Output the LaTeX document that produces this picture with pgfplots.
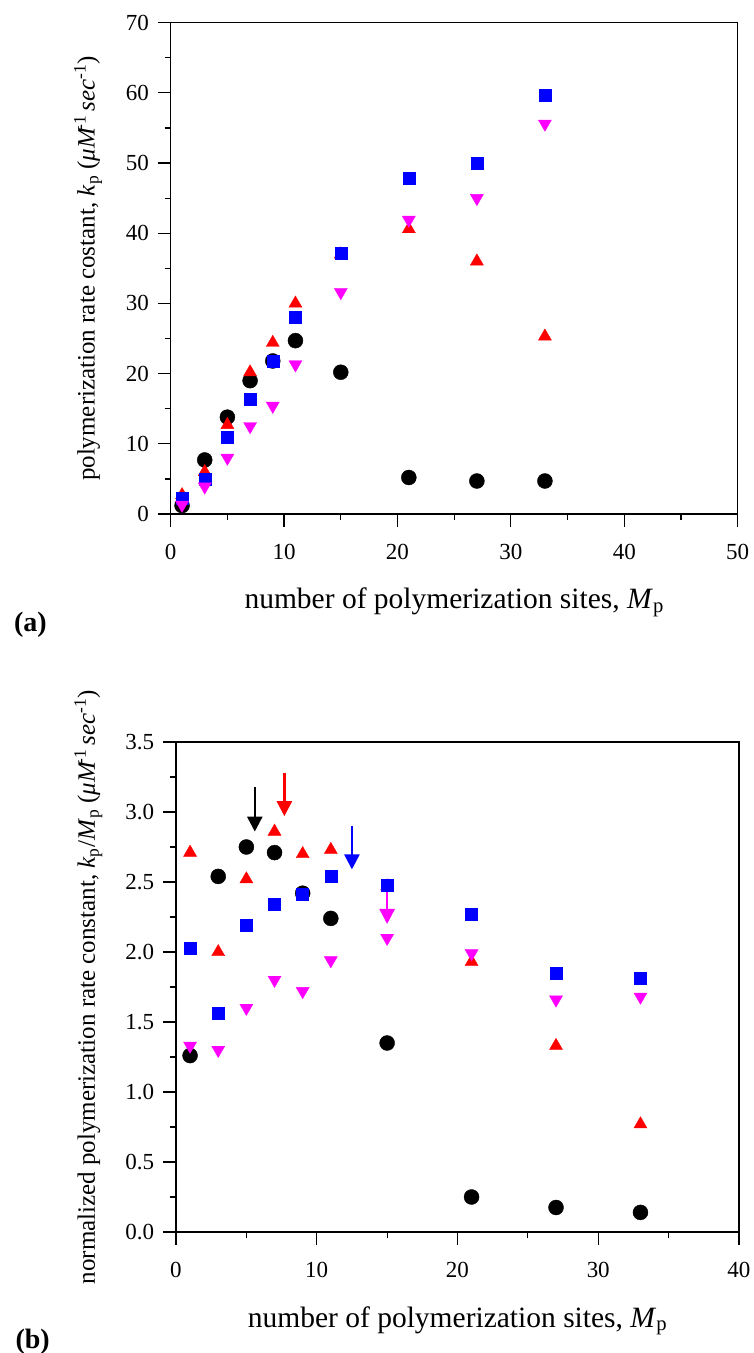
\documentclass[border=0pt]{standalone}
\usepackage{fontspec}
\setmainfont{Liberation Serif}
\usepackage{pgfplots}
\usepackage{pgfplotstable}
\pgfplotsset{compat=1.18}
\usetikzlibrary{arrows.meta}

\pgfplotstableread{
x black red blue magenta
1 1.2 2.7 2.2 1.3
3 7.7 6.0 5.0 3.9
5 13.8 12.7 11.0 8.0
7 19.0 20.2 16.4 12.5
9 21.8 24.4 21.7 15.4
11 24.7 30.0 28.0 21.3
15 20.2 37.0 37.2 31.6
21 5.2 40.6 47.8 41.9
27 4.7 36.0 50.0 45.0
33 4.7 25.3 59.7 55.6
}\topdata

\pgfplotstableread{
x black red blue magenta
1 1.26 2.71 2.03 1.33
3 2.54 2.00 1.56 1.30
5 2.75 2.52 2.19 1.60
7 2.71 2.86 2.34 1.80
9 2.42 2.70 2.41 1.72
11 2.24 2.73 2.54 1.94
15 1.35 2.47 2.48 2.10
21 0.25 1.93 2.27 1.99
27 0.175 1.33 1.85 1.66
33 0.14 0.77 1.81 1.68
}\botdata

\definecolor{mred}{RGB}{255,0,0}
\definecolor{mblue}{RGB}{0,0,255}
\definecolor{mmag}{RGB}{255,0,255}

\pgfplotsset{
  mystyle/.style={
    scale only axis,
    tick pos=left,
    tick align=outside,
    major tick length=13pt,
    minor tick length=6pt,
    line width=1.2pt,
    every tick/.style={line width=1.2pt, black},
    tick label style={font=\fontsize{23}{23}\selectfont},
    xticklabel style={yshift=-13pt},
    yticklabel style={xshift=-5pt},
    /pgf/number format/assume math mode=true,
    clip=false,
    xlabel style={at={(axis description cs:0.5,0)}, anchor=base, yshift=-95pt, font=\fontsize{29.5}{29.5}\selectfont},
    ylabel style={at={(axis description cs:0,0.5)}, anchor=base, font=\fontsize{25}{25}\selectfont},
  },
  blackpts/.style={only marks, color=black, mark=*, mark size=7.5pt, mark options={solid, line width=0.4pt, fill=black}},
  redpts/.style={only marks, color=mred, mark=triangle*, mark size=7.5pt, mark options={solid, line width=0.4pt, fill=mred}},
  bluepts/.style={only marks, color=mblue, mark=square*, mark size=6pt, mark options={solid, line width=0.4pt, fill=mblue}},
  magpts/.style={only marks, color=mmag, mark=triangle*, mark size=7.5pt, mark options={solid, line width=0.4pt, fill=mmag, rotate=180}},
}

\begin{document}
\begin{tikzpicture}[x=1pt,y=1pt]
\useasboundingbox (0,0) rectangle (753,1353);

% (a)
\begin{axis}[mystyle,
  at={(170.7pt,839pt)}, anchor=south west,
  width=567pt, height=491.3pt,
  xmin=0, xmax=50, ymin=0, ymax=70,
  xtick={0,10,...,50}, ytick={0,10,...,70},
  minor x tick num=1, minor y tick num=1,
  xlabel={number of polymerization sites, \textit{M}\textsubscript{p}},
  ylabel={polymerization rate costant, \textit{k}\textsubscript{p} (\textit{μM}\kern-0.15em\textsuperscript{-1}\,\textit{sec}\textsuperscript{-1})},
  ylabel style={yshift=76pt},
]
\addplot[blackpts] table[x=x, y=black] {\topdata};
\addplot[redpts] table[x=x, y=red] {\topdata};
\addplot[bluepts] table[x=x, y=blue] {\topdata};
\addplot[magpts] table[x=x, y=magenta] {\topdata};
\end{axis}

% (b)
\begin{axis}[mystyle,
  at={(176pt,121pt)}, anchor=south west,
  width=563pt, height=490pt,
  xmin=0, xmax=40, ymin=0, ymax=3.5,
  xtick={0,10,...,40}, ytick={0,0.5,...,3.5},
  minor x tick num=1, minor y tick num=1,
  yticklabel style={/pgf/number format/.cd, fixed, fixed zerofill, precision=1},
  xlabel={number of polymerization sites, \textit{M}\textsubscript{p}},
  ylabel={normalized polymerization rate constant, \textit{k}\textsubscript{p}/\textit{M}\textsubscript{p} (\textit{μM}\kern-0.15em\textsuperscript{-1}\,\textit{sec}\textsuperscript{-1})},
  ylabel style={yshift=81pt},
]
\addplot[blackpts] table[x=x, y=black] {\botdata};
\addplot[redpts] table[x=x, y=red] {\botdata};
\addplot[bluepts] table[x=x, y=blue] {\botdata};
\addplot[magpts] table[x=x, y=magenta] {\botdata};
\draw[black, line width=2.5pt, -{Triangle[width=15pt,length=15pt]}] (axis cs:5.6,3.18) -- (axis cs:5.6,2.86);
\draw[mred, line width=2.5pt, -{Triangle[width=15pt,length=15pt]}] (axis cs:7.7,3.28) -- (axis cs:7.7,2.97);
\draw[mblue, line width=2.5pt, -{Triangle[width=15pt,length=15pt]}] (axis cs:12.5,2.90) -- (axis cs:12.5,2.59);
\draw[mmag, line width=2.5pt, -{Triangle[width=15pt,length=15pt]}] (axis cs:15,2.50) -- (axis cs:15,2.20);
\end{axis}

\node[anchor=base west, font=\bfseries\fontsize{28}{28}\selectfont] at (10.6,721) {(a)};
\node[anchor=base west, font=\bfseries\fontsize{28}{28}\selectfont] at (12,5) {(b)};
\end{tikzpicture}
\end{document}
